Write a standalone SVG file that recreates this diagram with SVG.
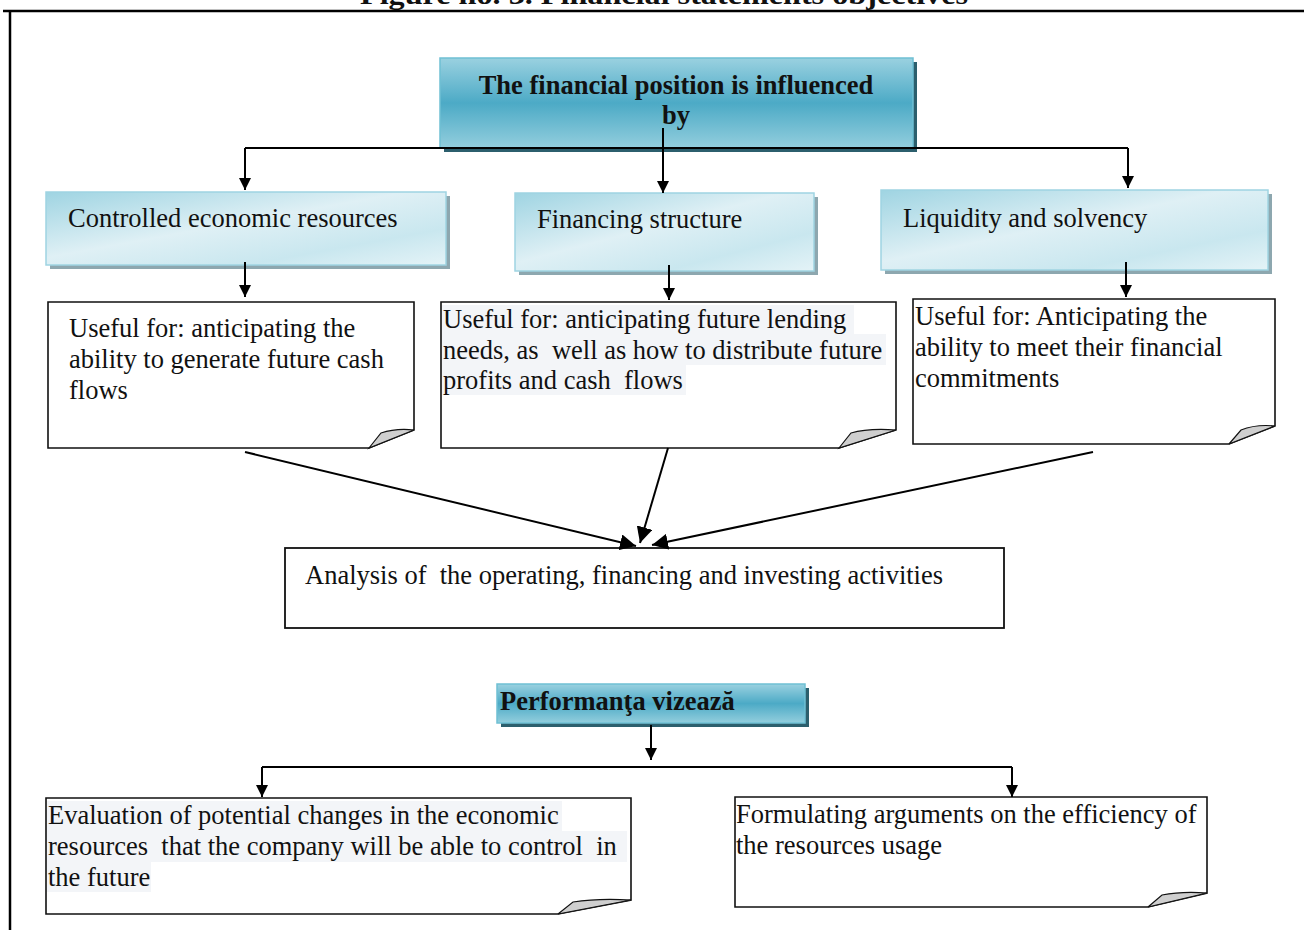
<svg xmlns="http://www.w3.org/2000/svg" width="1304" height="930" viewBox="0 0 1304 930">
<style>
.t{font-family:"Liberation Serif","Times New Roman",serif;font-size:26.5px;fill:#111}
.b{font-weight:bold}
.note{fill:#fff;stroke:#111;stroke-width:1.6}
.fold{fill:#cfcfcf;stroke:#111;stroke-width:1.2}
.conn{stroke:#000;stroke-width:2;fill:none}
.hl{fill:#f3f5f8}
</style>
<defs>
<linearGradient id="dark" x1="0" y1="0" x2="0" y2="1">
<stop offset="0" stop-color="#9ad1e0"/><stop offset="0.5" stop-color="#4caac6"/><stop offset="1" stop-color="#93cedd"/>
</linearGradient>
<linearGradient id="light" x1="0" y1="0" x2="1" y2="1">
<stop offset="0" stop-color="#9fd4e2"/><stop offset="0.45" stop-color="#dff0f5"/><stop offset="0.75" stop-color="#c9e7ef"/><stop offset="1" stop-color="#e4f3f7"/>
</linearGradient>
<marker id="ah" viewBox="0 0 10 10" refX="10" refY="5" markerWidth="12" markerHeight="12" markerUnits="userSpaceOnUse" orient="auto">
<path d="M0,0 L10,5 L0,10 Z" fill="#000"/>
</marker>
<marker id="ah2" viewBox="0 0 10 10" refX="10" refY="5" markerWidth="16" markerHeight="16" markerUnits="userSpaceOnUse" orient="auto">
<path d="M0,0 L10,5 L0,10 Z" fill="#000"/>
</marker>
</defs>
<rect width="1304" height="930" fill="#fff"/>
<text class="t b" x="360" y="4" font-size="34" textLength="608" lengthAdjust="spacingAndGlyphs">Figure no. 3. Financial statements objectives</text>
<path d="M3,11 H1304 M10,11 V930" stroke="#000" stroke-width="2.5" fill="none"/>

<g id="n-top">
<rect x="444" y="62" width="473" height="90" fill="#2c5f6d"/>
<rect x="440" y="58" width="473" height="90" fill="url(#dark)" stroke="#6fc0d4" stroke-width="1.5"/>
<text class="t b" x="676" y="94" text-anchor="middle">The financial position is influenced</text>
<text class="t b" x="676" y="124" text-anchor="middle">by</text>
</g>

<g id="n-controlled">
<rect x="50" y="196" width="400" height="73" fill="#8da7af"/>
<rect x="46" y="192" width="400" height="73" fill="url(#light)" stroke="#9fd4e2" stroke-width="1.5"/>
<text class="t" x="68" y="227">Controlled economic resources</text>
</g>
<g id="n-financing">
<rect x="519" y="197" width="299" height="78" fill="#8da7af"/>
<rect x="515" y="193" width="299" height="78" fill="url(#light)" stroke="#9fd4e2" stroke-width="1.5"/>
<text class="t" x="537" y="228">Financing structure</text>
</g>
<g id="n-liquidity">
<rect x="885" y="194" width="387" height="80" fill="#8da7af"/>
<rect x="881" y="190" width="387" height="80" fill="url(#light)" stroke="#9fd4e2" stroke-width="1.5"/>
<text class="t" x="903" y="227">Liquidity and solvency</text>
</g>

<g id="n-note1">
<path class="note" d="M48,302 H414 V430 L369,448 H48 Z"/>
<path class="fold" d="M369,448 L381,433 Q396,428 414,430 Z"/>
<text class="t" x="69" y="337">Useful for: anticipating the</text>
<text class="t" x="69" y="368">ability to generate future cash</text>
<text class="t" x="69" y="399">flows</text>
</g>
<g id="n-note2">
<path class="note" d="M441,302 H896 V430 L839,448 H441 Z"/>
<path class="fold" d="M839,448 L851,433 Q868,428 896,430 Z"/>
<rect class="hl" x="442" y="305" width="412" height="29"/>
<rect class="hl" x="442" y="334" width="444" height="31"/>
<rect class="hl" x="442" y="365" width="244" height="30"/>
<text class="t" x="443" y="328">Useful for: anticipating future lending</text>
<text class="t" x="443" y="359" xml:space="preserve">needs, as  well as how to distribute future</text>
<text class="t" x="443" y="389" xml:space="preserve">profits and cash  flows</text>
</g>
<g id="n-note3">
<path class="note" d="M913,299 H1275 V426 L1229,444 H913 Z"/>
<path class="fold" d="M1229,444 L1241,430 Q1256,424 1275,426 Z"/>
<text class="t" x="915" y="325">Useful for: Anticipating the</text>
<text class="t" x="915" y="356">ability to meet their financial</text>
<text class="t" x="915" y="387">commitments</text>
</g>

<g id="n-analysis">
<rect x="285" y="548" width="719" height="80" fill="#fff" stroke="#111" stroke-width="1.8"/>
<text class="t" x="305" y="584" xml:space="preserve">Analysis of  the operating, financing and investing activities</text>
</g>

<g id="n-perf">
<rect x="501" y="688" width="308" height="39" fill="#2c5f6d"/>
<rect x="497" y="684" width="308" height="39" fill="url(#dark)" stroke="#6fc0d4" stroke-width="1.5"/>
<text class="t b" x="500" y="710">Performanţa vizează</text>
</g>

<g id="n-eval">
<path class="note" d="M46,798 H631 V900 L558,914 H46 Z"/>
<path class="fold" d="M558,914 L573,902 Q598,898 631,900 Z"/>
<rect class="hl" x="47" y="801" width="515" height="30"/>
<rect class="hl" x="47" y="831" width="580" height="31"/>
<rect class="hl" x="47" y="862" width="104" height="30"/>
<text class="t" x="48" y="824">Evaluation of potential changes in the economic</text>
<text class="t" x="48" y="855" xml:space="preserve">resources  that the company will be able to control  in</text>
<text class="t" x="48" y="886">the future</text>
</g>
<g id="n-form">
<path class="note" d="M735,797 H1207 V893 L1148,907 H735 Z"/>
<path class="fold" d="M1148,907 L1162,895 Q1182,891 1207,893 Z"/>
<text class="t" x="736" y="823">Formulating arguments on the efficiency of</text>
<text class="t" x="736" y="854">the resources usage</text>
</g>

<g id="connectors">
<path class="conn" d="M245,148 H1128"/>
<path class="conn" d="M245,148 V190" marker-end="url(#ah)"/>
<path class="conn" d="M663,128 V193" marker-end="url(#ah)"/>
<path class="conn" d="M1128,148 V188" marker-end="url(#ah)"/>
<path class="conn" d="M245,262 V297" marker-end="url(#ah)"/>
<path class="conn" d="M669,265 V300" marker-end="url(#ah)"/>
<path class="conn" d="M1126,262 V297" marker-end="url(#ah)"/>
<path class="conn" d="M245,452 L636,546" marker-end="url(#ah2)"/>
<path class="conn" d="M668,448 L640,543" marker-end="url(#ah2)"/>
<path class="conn" d="M1093,452 L652,545" marker-end="url(#ah2)"/>
<path class="conn" d="M651,725 V760" marker-end="url(#ah)"/>
<path class="conn" d="M262,767 H1012"/>
<path class="conn" d="M262,767 V797" marker-end="url(#ah)"/>
<path class="conn" d="M1012,767 V797" marker-end="url(#ah)"/>
</g>
</svg>
